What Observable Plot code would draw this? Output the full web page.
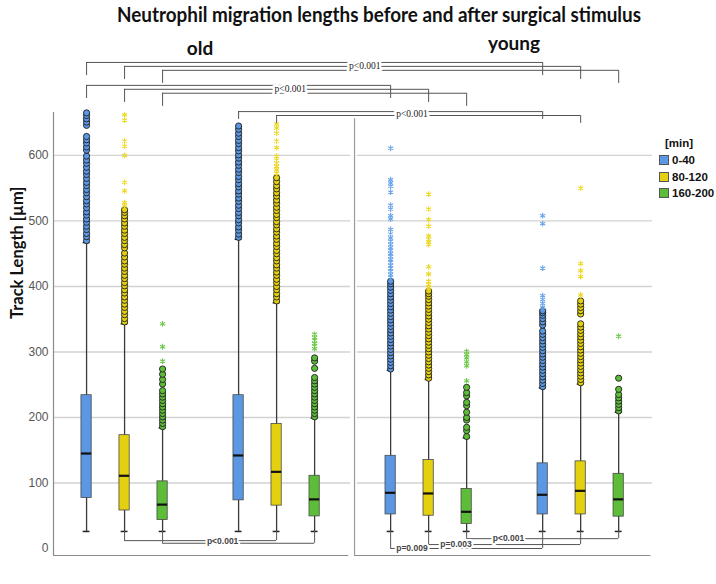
<!DOCTYPE html>
<html>
<head>
<meta charset="utf-8">
<script src="https://cdn.jsdelivr.net/npm/d3@7"></script>
<script src="https://cdn.jsdelivr.net/npm/@observablehq/plot@0.6"></script>
<style>
  body { margin: 0; background: #fff; }
  #wrap { position: relative; width: 716px; height: 584px; overflow: hidden; font-family: "Liberation Sans", Arial, sans-serif; }
  #chart { position: absolute; left: 0; top: 0; }
  .title { position: absolute; top: 2px; left: 379px; white-space: nowrap; font-family: Lato, "Open Sans", sans-serif; font-weight: 700; font-size: 20px; color: #111; transform-origin: 0 0; }
  .panel { position: absolute; white-space: nowrap; font-family: Lato, "Open Sans", sans-serif; font-weight: 700; font-size: 19px; color: #111; transform: translate(-50%, -50%); }
  .legend { position: absolute; left: 659px; top: 135px; font-family: "Liberation Sans", Arial, sans-serif; font-weight: 700; font-size: 11.5px; color: #111; }
  .legend .head { margin-left: 6px; height: 17px; line-height: 17px; }
  .legend .row { height: 16.5px; line-height: 16.5px; display: flex; align-items: center; }
  .legend .sw { width: 8px; height: 8px; border: 1px solid #555; margin-right: 3px; }
</style>
</head>
<body>
<div id="wrap"></div>
<script>
// Groups: age × phase × time window
const ages = ["old", "young"];
const phases = ["pre", "post"];
const windows = ["0-40", "80-120", "160-200"];
const windowColors = ["#5b97e2", "#e3d10f", "#5dbd38"];
const starColors = ["#6aa6ea", "#ecd824", "#6cc94a"];

// Box summaries in group order: old pre, old post, young pre, young post (each 0-40, 80-120, 160-200)
const q1 = [77, 58, 43.5, 73.5, 65.4, 49, 52, 50, 37.4, 52, 52, 48.6];
const median = [145, 111, 67, 142, 117, 75, 85, 84, 56, 82, 88, 75];
const q3 = [234, 173, 102.5, 234, 190, 111, 141.5, 135, 91, 130, 133, 114];
const whiskerLow = [26, 26, 26, 26, 26, 26, 26, 26, 26, 26, 26, 26];
const whiskerHigh = [467, 343, 184, 472, 375, 199, 272, 258, 169, 245, 251, 208];

// Outliers (circles) and extreme values (asterisks), same group order
const outliers = [
  [470, 476, 481, 487, 492, 498, 503, 509, 514, 520, 526, 531, 537, 543, 548, 554, 559, 565, 571, 576, 582, 588, 593, 599, 608, 613, 619, 624, 629, 646, 651, 656, 661, 665],
  [346, 351, 357, 362, 368, 373, 379, 384, 390, 395, 401, 406, 412, 417, 423, 428, 434, 439, 445, 451, 459, 464, 470, 475, 481, 486, 492, 497, 503, 508, 513, 517],
  [186, 191, 196, 201, 206, 211, 216, 221, 226, 231, 236, 241, 251, 258, 266, 274],
  [475, 480, 486, 491, 497, 502, 508, 513, 519, 524, 530, 535, 541, 546, 552, 557, 563, 568, 574, 579, 585, 590, 596, 601, 607, 612, 618, 623, 629, 634, 640, 645],
  [378, 384, 389, 395, 400, 406, 411, 417, 422, 428, 433, 439, 444, 450, 455, 461, 466, 472, 477, 483, 488, 494, 499, 505, 510, 516, 521, 527, 532, 538, 543, 549, 554, 560, 566],
  [201, 206, 211, 216, 221, 226, 231, 236, 241, 246, 251, 256, 261, 275, 286, 291],
  [274, 279, 284, 289, 294, 299, 304, 309, 314, 319, 324, 329, 334, 339, 344, 349, 354, 359, 364, 369, 374, 379, 384, 389, 394, 399, 404, 408],
  [260, 265, 270, 275, 280, 285, 290, 295, 300, 305, 310, 315, 320, 325, 330, 335, 340, 345, 350, 355, 360, 365, 370, 375, 380, 385, 389, 393],
  [171, 180, 185, 196, 200, 208, 218, 223, 233, 238, 246],
  [247, 252, 257, 262, 267, 272, 277, 282, 287, 292, 297, 302, 307, 312, 317, 322, 327, 332, 341, 346, 351, 356, 360, 363],
  [253, 258, 263, 268, 273, 278, 283, 288, 293, 298, 303, 308, 313, 318, 323, 328, 333, 338, 343, 358, 363, 368, 373, 378],
  [210, 215, 220, 225, 230, 235, 243, 260]
];
const extremes = [
  [],
  [523, 528, 546, 559, 600, 614, 622, 654, 662],
  [286, 308, 343],
  [],
  [573, 578, 583, 588, 593, 599, 612, 622, 634, 642, 648],
  [305, 309, 313, 318, 322, 327],
  [414, 418, 423, 428, 432, 437, 441, 446, 450, 455, 459, 464, 469, 474, 480, 487, 503, 508, 518, 524, 544, 553, 558, 563, 611],
  [398, 403, 408, 419, 430, 464, 468, 472, 477, 492, 502, 518, 541],
  [256, 279, 285, 291, 296, 301],
  [368, 374, 380, 386, 428, 496, 508],
  [387, 415, 424, 435, 550],
  [324]
];

// Pairwise comparisons: [age, phase] vs [age, phase] for the listed windows
const comparisons = [
  {a: ["old", "pre"], b: ["young", "post"], windows: [0, 1, 2], p: "p<0.001"},
  {a: ["old", "pre"], b: ["young", "pre"], windows: [0, 1, 2], p: "p<0.001"},
  {a: ["old", "post"], b: ["young", "post"], windows: [0, 1], p: "p<0.001"},
  {a: ["old", "pre"], b: ["old", "post"], windows: [1, 2], p: "p<0.001"},
  {a: ["young", "pre"], b: ["young", "post"], windows: [0], p: "p=0.009"},
  {a: ["young", "pre"], b: ["young", "post"], windows: [1], p: "p=0.003"},
  {a: ["young", "pre"], b: ["young", "post"], windows: [2], p: "p<0.001"}
];

const tickValues = [0, 100, 200, 300, 400, 500, 600];
const yLabel = "Track Length [µm]";

// ---- layout helpers ----
// Each panel holds pre (3 boxes), a spacer, post (3 boxes); panels separated by one slot
const slotOf = (age, phase, w) => ages.indexOf(age) * 8 + phases.indexOf(phase) * 4 + w;

const groups = [];
ages.forEach(age => phases.forEach(phase => windows.forEach((win, w) => {
  const i = groups.length;
  groups.push({age, phase, win, w, pos: slotOf(age, phase, w),
    q1: q1[i], med: median[i], q3: q3[i], lo: whiskerLow[i], hi: whiskerHigh[i]});
})));

const circleRows = groups.flatMap((g, i) => outliers[i].map(v => ({pos: g.pos, w: g.w, v})));
const starRows = groups.flatMap((g, i) => extremes[i].map(v => ({pos: g.pos, w: g.w, v})));

const boxHalf = 0.135, capHalf = 0.09;
const yMin = -10.7, yMax = 665.6;
const xLeft = -0.87, xRight = 14.89, xSplit = 7.05;

// Bracket placement (levels in axis units; label position as fraction along the first line)
const bracketLayout = [
  {levels: [742, 736, 730], drop: 20, labelLevel: 736, at: 0.61, top: true},
  {levels: [707, 701, 695], drop: 20, labelLevel: 701, at: 0.67, top: true},
  {levels: [667, 661], drop: 12, labelLevel: 664, at: 0.57, top: true},
  {levels: [12, 8], labelLevel: 11, at: 0.645, top: false},
  {levels: [0], labelLevel: 0, at: 0.14, top: false},
  {levels: [6], labelLevel: 6, at: 0.18, top: false},
  {levels: [15], labelLevel: 15, at: 0.275, top: false}
];

const bLines = [], bTicks = [], bLabels = [];
comparisons.forEach((c, k) => {
  const L = bracketLayout[k];
  c.windows.forEach((w, j) => {
    const xa = slotOf(c.a[0], c.a[1], w), xb = slotOf(c.b[0], c.b[1], w);
    const y = L.levels[j];
    bLines.push({x1: xa, x2: xb, y});
    for (const x of [xa, xb]) {
      const g = groups.find(d => d.pos === x);
      if (L.top) bTicks.push({x, y1: y, y2: y - L.drop});
      else bTicks.push({x, y1: g.lo, y2: y});
    }
  });
  const xa0 = slotOf(c.a[0], c.a[1], c.windows[0]), xb0 = slotOf(c.b[0], c.b[1], c.windows[0]);
  bLabels.push({x: xa0 + L.at * (xb0 - xa0), y: L.labelLevel, text: c.p, top: L.top});
});

const midTicks = groups.filter(g => g.w === 1).map(g => g.pos);

const chart = Plot.plot({
  width: 716,
  height: 584,
  marginLeft: 53,
  marginRight: 64,
  marginTop: 112,
  marginBottom: 29,
  x: {domain: [xLeft, xRight], axis: null},
  y: {domain: [yMin, yMax], axis: null},
  color: {type: "identity"},
  style: {fontFamily: "'Liberation Sans', Arial, sans-serif", background: "white"},
  marks: [
    // grid lines per panel
    Plot.ruleY(tickValues.filter(t => t > 0), {x1: xLeft, x2: 6.95, stroke: "#d2d2d2", strokeWidth: 1.3}),
    Plot.ruleY(tickValues.filter(t => t > 0), {x1: 7.12, x2: xRight, stroke: "#d2d2d2", strokeWidth: 1.3}),
    // panel axes
    Plot.ruleX([xLeft], {y1: yMin, y2: yMax, stroke: "#8c8c8c", strokeWidth: 1.2}),
    Plot.ruleY([yMin], {x1: xLeft, x2: 6.9, stroke: "#8c8c8c", strokeWidth: 1.2}),
    Plot.ruleX([xSplit], {y1: yMin, y2: 656, stroke: "#9a9a9a", strokeWidth: 1.2}),
    Plot.ruleY([yMin], {x1: xSplit, x2: 14.85, stroke: "#8c8c8c", strokeWidth: 1.2}),
    Plot.axisY({ticks: tickValues, tickSize: 0, tickPadding: 5, fontSize: 12, fill: "#555", label: null}),
    Plot.axisX({ticks: midTicks, tickFormat: d => phases[(d % 8) / 4], tickSize: 0, tickPadding: 8,
      fontSize: 16, fontWeight: "bold", fill: "#111", label: null}),
    Plot.text([yLabel], {frameAnchor: "left", rotate: -90, dx: -36, dy: -15, fontSize: 16.5,
      fontWeight: "bold", fontFamily: "Lato, 'Open Sans', sans-serif", fill: "#111"}),
    // whiskers and caps
    Plot.ruleX(groups, {x: "pos", y1: "lo", y2: "hi", stroke: "#3a3a3a", strokeWidth: 1.3}),
    Plot.ruleY(groups, {y: "lo", x1: d => d.pos - capHalf, x2: d => d.pos + capHalf, stroke: "#222", strokeWidth: 1.5}),
    Plot.ruleY(groups, {y: "hi", x1: d => d.pos - capHalf, x2: d => d.pos + capHalf, stroke: "#222", strokeWidth: 1.5}),
    // boxes and medians
    Plot.rectY(groups, {x1: d => d.pos - boxHalf, x2: d => d.pos + boxHalf, y1: "q1", y2: "q3",
      fill: d => windowColors[d.w], stroke: "#4a4a4a", strokeWidth: 0.8}),
    Plot.ruleY(groups, {y: "med", x1: d => d.pos - boxHalf, x2: d => d.pos + boxHalf, stroke: "#111", strokeWidth: 2.2}),
    // outliers and extremes
    Plot.dot(circleRows, {x: "pos", y: "v", r: 3.1, fill: d => windowColors[d.w], stroke: "#1e1e1e", strokeWidth: 0.9}),
    Plot.dot(starRows, {x: "pos", y: "v", r: 2.7, symbol: "asterisk", stroke: d => starColors[d.w], strokeWidth: 1.1}),
    // significance brackets
    Plot.ruleY(bLines, {x1: "x1", x2: "x2", y: "y", stroke: "#555", strokeWidth: 1}),
    Plot.ruleX(bTicks, {x: "x", y1: "y1", y2: "y2", stroke: "#555", strokeWidth: 1}),
    Plot.text(bLabels.filter(d => d.top), {x: "x", y: "y", text: "text", fontSize: 9.5,
      fontFamily: "'Liberation Serif', 'DejaVu Serif', serif", fill: "#222", stroke: "white", strokeWidth: 5}),
    Plot.text(bLabels.filter(d => !d.top), {x: "x", y: "y", text: "text", fontSize: 8.5, fontWeight: "bold",
      fill: "#444", stroke: "white", strokeWidth: 4})
  ]
});

const wrap = document.getElementById("wrap");
chart.id = "chart";
wrap.appendChild(chart);

// title, fitted to its line width
const title = document.createElement("div");
title.className = "title";
title.textContent = "Neutrophil migration lengths before and after surgical stimulus";
wrap.appendChild(title);
const tw = title.getBoundingClientRect().width;
const titleWidth = 524;
title.style.transform = `translateX(${-titleWidth / 2}px) scaleX(${titleWidth / tw})`;

// panel captions
[["old", 200, 47], ["young", 514, 42]].forEach(([t, x, y]) => {
  const el = document.createElement("div");
  el.className = "panel";
  el.textContent = t;
  el.style.left = x + "px";
  el.style.top = y + "px";
  wrap.appendChild(el);
});

// legend
const legend = document.createElement("div");
legend.className = "legend";
legend.innerHTML = `<div class="head">[min]</div>` + windows.map((w, i) =>
  `<div class="row"><span class="sw" style="background:${windowColors[i]}"></span>${w}</div>`).join("");
wrap.appendChild(legend);
</script>
</body>
</html>
